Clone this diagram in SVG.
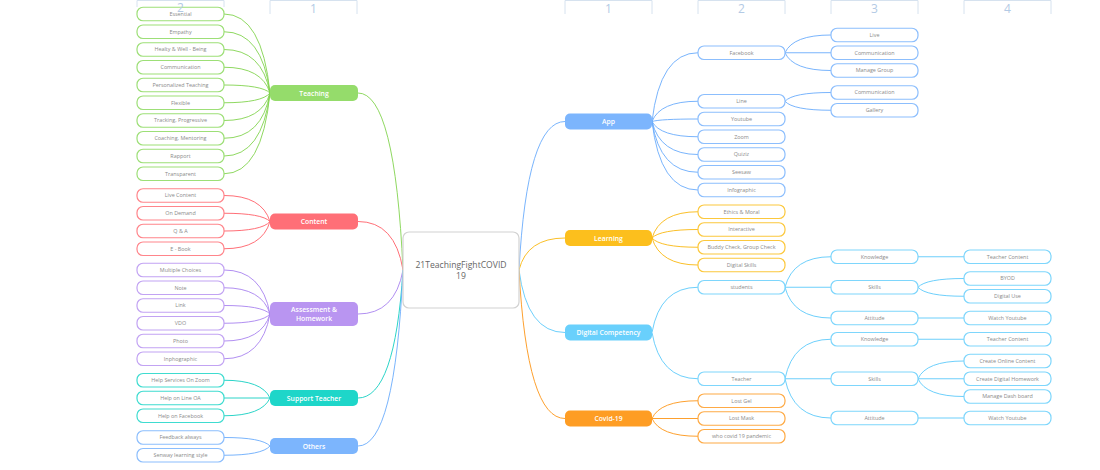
<svg xmlns="http://www.w3.org/2000/svg" width="1100" height="470" viewBox="0 0 1100 470">
<style>
text{font-family:"Open Sans","Liberation Sans",sans-serif;text-anchor:middle}
.hd path{fill:none;stroke:#d6e2ef;stroke-width:1}
.hd text{font-size:12px;fill:#b3cae5}
.leaf rect{fill:#fff;stroke-width:1.2}
.leaf text{font-size:5.4px;fill:#8a8a8a}
.br text{font-size:6.8px;font-weight:600;fill:#fff}
.cn path{fill:none;stroke-width:0.9}
.g rect{stroke:#9ddf77}.r rect{stroke:#ff858b}.p rect{stroke:#c2a3f3}.t rect{stroke:#3fdcd0}.b rect{stroke:#8cbefd}.y rect{stroke:#fcc83c}.l rect{stroke:#7ed6fc}.o rect{stroke:#feaa45}
.br.g rect{fill:#95dc6b;stroke:none}.br.r rect{fill:#ff6f77;stroke:none}.br.p rect{fill:#b995f1;stroke:none}.br.t rect{fill:#1ed6c9;stroke:none}.br.b rect{fill:#7cb5fd;stroke:none}.br.y rect{fill:#fcbf1d;stroke:none}.br.l rect{fill:#69d0fc;stroke:none}.br.o rect{fill:#fe9d24;stroke:none}
.cg{stroke:#82d44f}.cr{stroke:#ff5f68}.cp{stroke:#a882ef}.ct{stroke:#14cfc2}.cb{stroke:#6aabfc}.cy{stroke:#f9b810}.cl{stroke:#5cc9fb}.co{stroke:#fd9516}
</style>
<g id="connectors" class="cn">
<path class="cg" d="M403 270Q395 93 358 93"/>
<path class="cr" d="M403 270Q395 221.5 358 221.5"/>
<path class="cp" d="M403 270Q395 314 358 314"/>
<path class="ct" d="M403 270Q395 398 358 398"/>
<path class="cb" d="M403 270Q395 446 358 446"/>
<path class="cb" d="M519 270Q527 121.5 565 121.5"/>
<path class="cy" d="M519 270Q527 238 565 238"/>
<path class="cl" d="M519 270Q527 332.5 565 332.5"/>
<path class="co" d="M519 270Q527 418.5 565 418.5"/>
<path class="cg" d="M270 93Q262 14 224 14M270 93Q262 31.75 224 31.75M270 93Q262 49.5 224 49.5M270 93Q262 67.25 224 67.25M270 93Q262 85 224 85M270 93Q262 102.75 224 102.75M270 93Q262 120.5 224 120.5M270 93Q262 138.25 224 138.25M270 93Q262 156 224 156M270 93Q262 173.75 224 173.75"/>
<path class="cr" d="M270 221.5Q262 195.5 224 195.5M270 221.5Q262 213.25 224 213.25M270 221.5Q262 231 224 231M270 221.5Q262 248.75 224 248.75"/>
<path class="cp" d="M270 314Q262 270 224 270M270 314Q262 287.75 224 287.75M270 314Q262 305.5 224 305.5M270 314Q262 323.25 224 323.25M270 314Q262 341 224 341M270 314Q262 358.75 224 358.75"/>
<path class="ct" d="M270 398Q262 380.25 224 380.25M270 398L224 398M270 398Q262 415.75 224 415.75"/>
<path class="cb" d="M270 446Q262 437.5 224 437.5M270 446Q262 455.25 224 455.25"/>
<path class="cb" d="M652 121.5Q660 52.75 698 52.75M652 121.5Q660 101.25 698 101.25M652 121.5Q660 119 698 119M652 121.5Q660 136.75 698 136.75M652 121.5Q660 154.5 698 154.5M652 121.5Q660 172.25 698 172.25M652 121.5Q660 190 698 190"/>
<path class="cb" d="M785 52.75Q793 35 831 35M785 52.75L831 52.75M785 52.75Q793 70.5 831 70.5M785 101.25Q793 92.5 831 92.5M785 101.25Q793 110.25 831 110.25"/>
<path class="cy" d="M652 238Q660 211.75 698 211.75M652 238Q660 229.5 698 229.5M652 238Q660 247.25 698 247.25M652 238Q660 265 698 265"/>
<path class="cl" d="M652 332.5Q660 287.25 698 287.25M652 332.5Q660 378.75 698 378.75"/>
<path class="cl" d="M785 287.25Q793 256.75 831 256.75M785 287.25L831 287.25M785 287.25Q793 318 831 318"/>
<path class="cl" d="M918 256.75L964 256.75M918 287.25Q926 278.5 964 278.5M918 287.25Q926 296.25 964 296.25M918 318L964 318"/>
<path class="cl" d="M785 378.75Q793 339.25 831 339.25M785 378.75L831 378.75M785 378.75Q793 418 831 418"/>
<path class="cl" d="M918 339.25L964 339.25M918 378.75Q926 361 964 361M918 378.75L964 378.75M918 378.75Q926 396.5 964 396.5M918 418L964 418"/>
<path class="co" d="M652 418.5Q660 400.75 698 400.75M652 418.5L698 418.5M652 418.5Q660 436.25 698 436.25"/>
</g>
<g id="center">
<rect x="403" y="232" width="116" height="76" rx="6" fill="#fff" stroke="#d2d2d2" stroke-width="1.2"/>
<text x="461" y="268" font-size="8.6" fill="#666">21TeachingFightCOVID</text>
<text x="461" y="279" font-size="8.6" fill="#666">19</text>
</g>
<g id="teaching" class="br g"><rect x="270" y="85" width="88" height="16" rx="5"/><text x="314" y="95.5">Teaching</text></g>
<g id="content" class="br r"><rect x="270" y="213.5" width="88" height="16" rx="5"/><text x="314" y="224">Content</text></g>
<g id="assessment" class="br p"><rect x="270" y="302" width="88" height="24" rx="5"/><text x="314" y="312">Assessment &amp;</text><text x="314" y="321">Homework</text></g>
<g id="support" class="br t"><rect x="270" y="390" width="88" height="16" rx="5"/><text x="314" y="400.5">Support Teacher</text></g>
<g id="others" class="br b"><rect x="270" y="438" width="88" height="16" rx="5"/><text x="314" y="448.5">Others</text></g>
<g id="app" class="br b"><rect x="565" y="113.5" width="87" height="16" rx="5"/><text x="608.5" y="124">App</text></g>
<g id="learning" class="br y"><rect x="565" y="230" width="87" height="16" rx="5"/><text x="608.5" y="240.5">Learning</text></g>
<g id="digital" class="br l"><rect x="565" y="324.5" width="87" height="16" rx="5"/><text x="608.5" y="335">Digital Competency</text></g>
<g id="covid" class="br o"><rect x="565" y="410.5" width="87" height="16" rx="5"/><text x="608.5" y="421">Covid-19</text></g>
<g id="t1" class="leaf g"><rect x="137" y="7.25" width="87" height="13.5" rx="6"/><text x="180.5" y="15.9">Essential</text></g>
<g id="t2" class="leaf g"><rect x="137" y="25" width="87" height="13.5" rx="6"/><text x="180.5" y="33.65">Empathy</text></g>
<g id="t3" class="leaf g"><rect x="137" y="42.75" width="87" height="13.5" rx="6"/><text x="180.5" y="51.4">Healty &amp; Well - Being</text></g>
<g id="t4" class="leaf g"><rect x="137" y="60.5" width="87" height="13.5" rx="6"/><text x="180.5" y="69.15">Communication</text></g>
<g id="t5" class="leaf g"><rect x="137" y="78.25" width="87" height="13.5" rx="6"/><text x="180.5" y="86.9">Personalized Teaching</text></g>
<g id="t6" class="leaf g"><rect x="137" y="96" width="87" height="13.5" rx="6"/><text x="180.5" y="104.65">Flexible</text></g>
<g id="t7" class="leaf g"><rect x="137" y="113.75" width="87" height="13.5" rx="6"/><text x="180.5" y="122.4">Tracking, Progressive</text></g>
<g id="t8" class="leaf g"><rect x="137" y="131.5" width="87" height="13.5" rx="6"/><text x="180.5" y="140.15">Coaching, Mentoring</text></g>
<g id="t9" class="leaf g"><rect x="137" y="149.25" width="87" height="13.5" rx="6"/><text x="180.5" y="157.9">Rapport</text></g>
<g id="t10" class="leaf g"><rect x="137" y="167" width="87" height="13.5" rx="6"/><text x="180.5" y="175.65">Transparent</text></g>
<g id="c1" class="leaf r"><rect x="137" y="188.75" width="87" height="13.5" rx="6"/><text x="180.5" y="197.4">Live Content</text></g>
<g id="c2" class="leaf r"><rect x="137" y="206.5" width="87" height="13.5" rx="6"/><text x="180.5" y="215.15">On Demand</text></g>
<g id="c3" class="leaf r"><rect x="137" y="224.25" width="87" height="13.5" rx="6"/><text x="180.5" y="232.9">Q &amp; A</text></g>
<g id="c4" class="leaf r"><rect x="137" y="242" width="87" height="13.5" rx="6"/><text x="180.5" y="250.65">E -  Book</text></g>
<g id="a1" class="leaf p"><rect x="137" y="263.25" width="87" height="13.5" rx="6"/><text x="180.5" y="271.9">Multiple Choices</text></g>
<g id="a2" class="leaf p"><rect x="137" y="281" width="87" height="13.5" rx="6"/><text x="180.5" y="289.65">Note</text></g>
<g id="a3" class="leaf p"><rect x="137" y="298.75" width="87" height="13.5" rx="6"/><text x="180.5" y="307.4">Link</text></g>
<g id="a4" class="leaf p"><rect x="137" y="316.5" width="87" height="13.5" rx="6"/><text x="180.5" y="325.15">VDO</text></g>
<g id="a5" class="leaf p"><rect x="137" y="334.25" width="87" height="13.5" rx="6"/><text x="180.5" y="342.9">Photo</text></g>
<g id="a6" class="leaf p"><rect x="137" y="352" width="87" height="13.5" rx="6"/><text x="180.5" y="360.65">Inphographic</text></g>
<g id="s1" class="leaf t"><rect x="137" y="373.5" width="87" height="13.5" rx="6"/><text x="180.5" y="382.15">Help Services On Zoom</text></g>
<g id="s2" class="leaf t"><rect x="137" y="391.25" width="87" height="13.5" rx="6"/><text x="180.5" y="399.9">Help on Line OA</text></g>
<g id="s3" class="leaf t"><rect x="137" y="409" width="87" height="13.5" rx="6"/><text x="180.5" y="417.65">Help on Facebook</text></g>
<g id="o1" class="leaf b"><rect x="137" y="430.75" width="87" height="13.5" rx="6"/><text x="180.5" y="439.4">Feedback always</text></g>
<g id="o2" class="leaf b"><rect x="137" y="448.5" width="87" height="13.5" rx="6"/><text x="180.5" y="457.15">Senway learning style</text></g>
<g id="facebook" class="leaf b"><rect x="698" y="46" width="87" height="13.5" rx="6"/><text x="741.5" y="54.65">Facebook</text></g>
<g id="fb1" class="leaf b"><rect x="831" y="28.25" width="87" height="13.5" rx="6"/><text x="874.5" y="36.9">Live</text></g>
<g id="fb2" class="leaf b"><rect x="831" y="46" width="87" height="13.5" rx="6"/><text x="874.5" y="54.65">Communication</text></g>
<g id="fb3" class="leaf b"><rect x="831" y="63.75" width="87" height="13.5" rx="6"/><text x="874.5" y="72.4">Manage Group</text></g>
<g id="line" class="leaf b"><rect x="698" y="94.5" width="87" height="13.5" rx="6"/><text x="741.5" y="103.15">Line</text></g>
<g id="ln1" class="leaf b"><rect x="831" y="85.75" width="87" height="13.5" rx="6"/><text x="874.5" y="94.4">Communication</text></g>
<g id="ln2" class="leaf b"><rect x="831" y="103.5" width="87" height="13.5" rx="6"/><text x="874.5" y="112.15">Gallery</text></g>
<g id="youtube" class="leaf b"><rect x="698" y="112.25" width="87" height="13.5" rx="6"/><text x="741.5" y="120.9">Youtube</text></g>
<g id="zoom" class="leaf b"><rect x="698" y="130" width="87" height="13.5" rx="6"/><text x="741.5" y="138.65">Zoom</text></g>
<g id="quiziz" class="leaf b"><rect x="698" y="147.75" width="87" height="13.5" rx="6"/><text x="741.5" y="156.4">Quiziz</text></g>
<g id="seesaw" class="leaf b"><rect x="698" y="165.5" width="87" height="13.5" rx="6"/><text x="741.5" y="174.15">Seesaw</text></g>
<g id="infographic" class="leaf b"><rect x="698" y="183.25" width="87" height="13.5" rx="6"/><text x="741.5" y="191.9">Infographic</text></g>
<g id="l1" class="leaf y"><rect x="698" y="205" width="87" height="13.5" rx="6"/><text x="741.5" y="213.65">Ethics &amp; Moral</text></g>
<g id="l2" class="leaf y"><rect x="698" y="222.75" width="87" height="13.5" rx="6"/><text x="741.5" y="231.4">Interactive</text></g>
<g id="l3" class="leaf y"><rect x="698" y="240.5" width="87" height="13.5" rx="6"/><text x="741.5" y="249.15">Buddy Check, Group Check</text></g>
<g id="l4" class="leaf y"><rect x="698" y="258.25" width="87" height="13.5" rx="6"/><text x="741.5" y="266.9">Digital Skills</text></g>
<g id="students" class="leaf l"><rect x="698" y="280.5" width="87" height="13.5" rx="6"/><text x="741.5" y="289.15">students</text></g>
<g id="sk" class="leaf l"><rect x="831" y="250" width="87" height="13.5" rx="6"/><text x="874.5" y="258.65">Knowledge</text></g>
<g id="ss" class="leaf l"><rect x="831" y="280.5" width="87" height="13.5" rx="6"/><text x="874.5" y="289.15">Skills</text></g>
<g id="sa" class="leaf l"><rect x="831" y="311.25" width="87" height="13.5" rx="6"/><text x="874.5" y="319.9">Attitude</text></g>
<g id="sk1" class="leaf l"><rect x="964" y="250" width="87" height="13.5" rx="6"/><text x="1007.5" y="258.65">Teacher Content</text></g>
<g id="ss1" class="leaf l"><rect x="964" y="271.75" width="87" height="13.5" rx="6"/><text x="1007.5" y="280.4">BYOD</text></g>
<g id="ss2" class="leaf l"><rect x="964" y="289.5" width="87" height="13.5" rx="6"/><text x="1007.5" y="298.15">Digital Use</text></g>
<g id="sa1" class="leaf l"><rect x="964" y="311.25" width="87" height="13.5" rx="6"/><text x="1007.5" y="319.9">Watch Youtube</text></g>
<g id="teacher" class="leaf l"><rect x="698" y="372" width="87" height="13.5" rx="6"/><text x="741.5" y="380.65">Teacher</text></g>
<g id="tk" class="leaf l"><rect x="831" y="332.5" width="87" height="13.5" rx="6"/><text x="874.5" y="341.15">Knowledge</text></g>
<g id="ts" class="leaf l"><rect x="831" y="372" width="87" height="13.5" rx="6"/><text x="874.5" y="380.65">Skills</text></g>
<g id="ta" class="leaf l"><rect x="831" y="411.25" width="87" height="13.5" rx="6"/><text x="874.5" y="419.9">Attitude</text></g>
<g id="tk1" class="leaf l"><rect x="964" y="332.5" width="87" height="13.5" rx="6"/><text x="1007.5" y="341.15">Teacher Content</text></g>
<g id="ts1" class="leaf l"><rect x="964" y="354.25" width="87" height="13.5" rx="6"/><text x="1007.5" y="362.9">Create Online Content</text></g>
<g id="ts2" class="leaf l"><rect x="964" y="372" width="87" height="13.5" rx="6"/><text x="1007.5" y="380.65">Create Digital Homework</text></g>
<g id="ts3" class="leaf l"><rect x="964" y="389.75" width="87" height="13.5" rx="6"/><text x="1007.5" y="398.4">Manage Dash board</text></g>
<g id="ta1" class="leaf l"><rect x="964" y="411.25" width="87" height="13.5" rx="6"/><text x="1007.5" y="419.9">Watch Youtube</text></g>
<g id="v1" class="leaf o"><rect x="698" y="394" width="87" height="13.5" rx="6"/><text x="741.5" y="402.65">Lost Gel</text></g>
<g id="v2" class="leaf o"><rect x="698" y="411.75" width="87" height="13.5" rx="6"/><text x="741.5" y="420.4">Lost Mask</text></g>
<g id="v3" class="leaf o"><rect x="698" y="429.5" width="87" height="13.5" rx="6"/><text x="741.5" y="438.15">who covid 19 pandemic</text></g>
<g id="headers" class="hd">
<path d="M137 7V0.5H224V7"/><text x="180.5" y="12">2</text>
<path d="M270 14V0.5H357V14"/><text x="313.5" y="12.5">1</text>
<path d="M565 14V0.5H652V14"/><text x="608.5" y="12.5">1</text>
<path d="M698 14V0.5H785V14"/><text x="741.5" y="12.5">2</text>
<path d="M831 14V0.5H918V14"/><text x="874.5" y="12.5">3</text>
<path d="M964 14V0.5H1051V14"/><text x="1007.5" y="12.5">4</text>
</g>
</svg>
